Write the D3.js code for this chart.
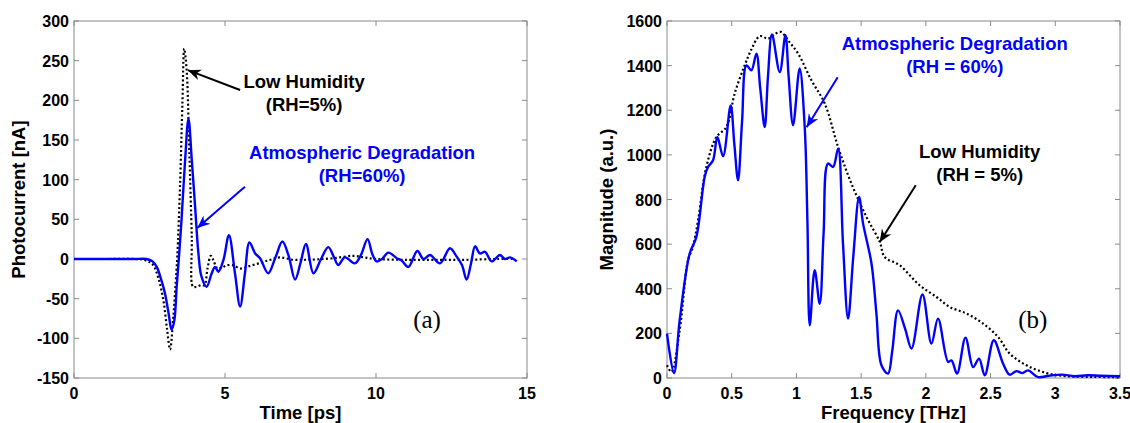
<!DOCTYPE html>
<html>
<head>
<meta charset="utf-8">
<script src="https://cdn.jsdelivr.net/npm/d3@7"></script>
<style>
  body { margin: 0; background: #fff; }
  svg text { font-family: "Liberation Sans", Arial, Helvetica, sans-serif; font-weight: bold; }
  .tick-label { font-size: 16px; fill: #000; }
  .axis-label { font-size: 18.5px; fill: #000; }
  .note { font-size: 18.5px; }
  .panel-tag { font-family: "Liberation Serif", "Times New Roman", serif !important; font-weight: normal !important; font-size: 25px; fill: #000; }
</style>
</head>
<body>
<svg id="chart" width="1130" height="423"></svg>
<script>
/*******************************************************************************************/
// Data

// (a) time domain
var lowT = [0, 1, 2, 2.3, 2.5, 2.63, 2.8, 2.96, 3.08, 3.18, 3.28, 3.35, 3.42, 3.51, 3.59, 3.65, 3.73, 3.82, 3.9, 3.94,
            4.05, 4.2, 4.32, 4.42, 4.53, 4.62, 4.75, 4.9, 5.05, 5.28, 5.5, 5.8, 6.16, 6.5, 6.82, 7.26, 7.6, 8.03,
            8.6, 9.25, 9.6, 10, 11, 12, 13, 14, 14.6];
var lowI = [0, 0, 0, -1, -4, -8, -25, -52, -88, -114, -77, -40, 3, 91, 196, 265, 238, 133, 28, -35,
            -35, -33, -33, -12, 4, -2, -12, -11, -8, -8, -12, -9, -5, -1, 2, -1, -1, -0.5,
            1, 4, 2, 0, -1, -1, -1, 0, 0];

var degT = [0, 1, 2, 2.4, 2.6, 2.74, 2.88, 3.01, 3.13, 3.23, 3.32, 3.4, 3.48, 3.56, 3.68, 3.79, 3.9, 4.01, 4.12, 4.22,
            4.39, 4.56, 4.67, 4.78, 4.95, 5.13, 5.33, 5.5, 5.66, 5.81, 6.0, 6.16, 6.43, 6.67, 6.9, 7.1, 7.32, 7.5,
            7.68, 7.93, 8.18, 8.42, 8.6, 8.75, 8.97, 9.3, 9.5, 9.72, 9.88, 10.02, 10.2, 10.41, 10.69, 10.85, 11.07,
            11.37, 11.57, 11.79, 12.12, 12.45, 12.67, 12.85, 13.0, 13.15, 13.28, 13.44, 13.61, 13.83, 14.1, 14.27,
            14.44, 14.66];
var degI = [0, 0, 0, 0, -3, -10, -25, -43, -68, -89, -78, -35, 5, 49, 125, 177, 125, 66, 7, -22,
            -35, -18, -10, -16, -1, 30, -18, -60, -18, 21, 7, 1, -18, 2, 22, 5, -26, -5,
            19, -18, 0, 15, 3, -7.6, 2, -5.5, 5, 25, 6, -3, 0, 8, 1, -2, -10,
            10, 0, 5, -5.5, 13.5, 3, -8, -26, -5, 16, 7, 9, -3, 5, 0,
            2, -3];

var timeTicks = [0, 5, 10, 15];
var currentTicks = [-150, -100, -50, 0, 50, 100, 150, 200, 250, 300];

// (b) frequency domain
var lowF = [0, 0.034, 0.098, 0.162, 0.2, 0.24, 0.304, 0.382, 0.459, 0.523, 0.6, 0.65, 0.716, 0.781, 0.83, 0.879, 0.94,
            1.013, 1.116, 1.219, 1.322, 1.425, 1.541, 1.644, 1.682, 1.798, 1.953, 2.082, 2.185, 2.314, 2.442, 2.558,
            2.648, 2.777, 2.932, 3.087, 3.3, 3.5];
var lowM = [57, 27, 214, 527, 587, 707, 946, 1080, 1125, 1275, 1401, 1470, 1532, 1521, 1540, 1551, 1510,
            1454, 1334, 1230, 1035, 871, 722, 610, 542, 505, 415, 363, 318, 289, 244, 184,
            109, 57, 22, 8, 5, 3];

var degF = [0, 0.054, 0.098, 0.175, 0.227, 0.291, 0.317, 0.356, 0.389, 0.433, 0.492, 0.52, 0.549, 0.58, 0.614, 0.652,
            0.691, 0.72, 0.755, 0.78, 0.811, 0.871, 0.915, 0.94, 0.974, 1.025, 1.064, 1.085, 1.103, 1.141, 1.18,
            1.21, 1.244, 1.283, 1.322, 1.36, 1.399, 1.44, 1.484, 1.515, 1.58, 1.618, 1.657, 1.708, 1.74, 1.785, 1.84,
            1.889, 1.974, 2.043, 2.094, 2.172, 2.198, 2.241, 2.306, 2.365, 2.411, 2.455, 2.525, 2.597, 2.648, 2.7,
            2.746, 2.79, 2.867, 2.95, 3.05, 3.15, 3.25, 3.35, 3.5];
var degM = [199, 22, 259, 557, 632, 901, 946, 976, 1080, 994, 1222, 1050, 886, 1150, 1401, 1379,
            1454, 1300, 1125, 1350, 1540, 1371, 1536, 1350, 1133, 1387, 1125, 700, 236, 483, 333,
            650, 961, 946, 1028, 600, 266, 550, 811, 692, 513, 289, 57, 20, 120, 303, 220,
            132, 374, 154, 266, 72, 79, 20, 181, 49, 87, 12, 169, 64, 15, 31,
            22, 34, 4, 10, 15, 8, 12, 10, 8];

var freqTicks = [0, 0.5, 1, 1.5, 2, 2.5, 3, 3.5];
var magTicks = [0, 200, 400, 600, 800, 1000, 1200, 1400, 1600];

/*************************************************/

var svg = d3.select('#chart');
var BLUE = '#0000ff';

var defs = svg.append('defs');
[['arrowBlack', '#000'], ['arrowBlue', BLUE]].forEach(function(a){
  defs.append('marker')
    .attr('id', a[0]).attr('markerUnits', 'userSpaceOnUse')
    .attr('viewBox', '-14 -7 16 14').attr('refX', 0).attr('refY', 0)
    .attr('markerWidth', 16).attr('markerHeight', 14).attr('orient', 'auto')
    .append('path').attr('d', 'M0,0 L-13,-5.5 L-9,0 L-13,5.5 Z').attr('fill', a[1]);
});

function zip(xs, ys){ return xs.map(function(x, i){ return { x: x, y: ys[i] }; }); }

function drawPanel(opt){
  var x = d3.scaleLinear().domain(opt.xDomain).range([opt.left, opt.right]);
  var y = d3.scaleLinear().domain(opt.yDomain).range([opt.bottom, opt.top]);
  var g = svg.append('g');
  var tl = 5;

  // box
  g.append('rect').attr('x', opt.left).attr('y', opt.top)
    .attr('width', opt.right - opt.left).attr('height', opt.bottom - opt.top)
    .attr('fill', 'none').attr('stroke', '#8a8a8a').attr('stroke-width', 1);

  // inward ticks, all four sides
  opt.xTicks.forEach(function(t){
    g.append('line').attr('x1', x(t)).attr('x2', x(t)).attr('y1', opt.bottom).attr('y2', opt.bottom - tl).attr('stroke', '#8a8a8a');
    g.append('line').attr('x1', x(t)).attr('x2', x(t)).attr('y1', opt.top).attr('y2', opt.top + tl).attr('stroke', '#8a8a8a');
    g.append('text').attr('class', 'tick-label').attr('x', x(t)).attr('y', opt.bottom + 21)
      .attr('text-anchor', 'middle').text(t);
  });
  opt.yTicks.forEach(function(t){
    g.append('line').attr('x1', opt.left).attr('x2', opt.left + tl).attr('y1', y(t)).attr('y2', y(t)).attr('stroke', '#8a8a8a');
    g.append('line').attr('x1', opt.right).attr('x2', opt.right - tl).attr('y1', y(t)).attr('y2', y(t)).attr('stroke', '#8a8a8a');
    g.append('text').attr('class', 'tick-label').attr('x', opt.left - 5).attr('y', y(t) + 6)
      .attr('text-anchor', 'end').text(t);
  });

  // axis labels
  g.append('text').attr('class', 'axis-label').attr('text-anchor', 'middle')
    .attr('x', (opt.left + opt.right) / 2).attr('y', 419).text(opt.xLabel);
  g.append('text').attr('class', 'axis-label').attr('text-anchor', 'middle')
    .attr('transform', 'translate(' + opt.yLabelX + ',' + ((opt.top + opt.bottom) / 2) + ') rotate(-90)')
    .text(opt.yLabel);

  var line = d3.line().x(function(d){ return x(d.x); }).y(function(d){ return y(d.y); })
    .curve(d3.curveCatmullRom.alpha(0.5));

  g.append('path').attr('d', line(opt.low)).attr('fill', 'none')
    .attr('stroke', '#000').attr('stroke-width', 2.2).attr('stroke-dasharray', '2,2.4');
  g.append('path').attr('d', line(opt.deg)).attr('fill', 'none')
    .attr('stroke', BLUE).attr('stroke-width', 2.4).attr('stroke-linejoin', 'round');

  // annotations
  opt.notes.forEach(function(n){
    var t = g.append('text').attr('class', 'note').attr('fill', n.color).attr('text-anchor', 'middle');
    n.lines.forEach(function(s, i){
      t.append('tspan').attr('x', x(n.at[0])).attr('y', y(n.at[1]) + i * 23).text(s);
    });
    g.append('line')
      .attr('x1', x(n.from[0])).attr('y1', y(n.from[1]))
      .attr('x2', x(n.to[0])).attr('y2', y(n.to[1]))
      .attr('stroke', n.color).attr('stroke-width', 2)
      .attr('marker-end', 'url(#' + (n.color === BLUE ? 'arrowBlue' : 'arrowBlack') + ')');
  });

  g.append('text').attr('class', 'panel-tag').attr('text-anchor', 'middle')
    .attr('x', x(opt.tag.at[0])).attr('y', y(opt.tag.at[1])).text(opt.tag.text);
}

drawPanel({
  left: 74, right: 527, top: 21, bottom: 378,
  xDomain: [0, 15], yDomain: [-150, 300],
  xTicks: timeTicks, yTicks: currentTicks,
  xLabel: 'Time [ps]', yLabel: 'Photocurrent [nA]', yLabelX: 25,
  low: zip(lowT, lowI), deg: zip(degT, degI),
  notes: [
    { color: '#000', lines: ['Low Humidity', '(RH=5%)'], at: [7.62, 216], from: [5.5, 213], to: [3.77, 238] },
    { color: BLUE, lines: ['Atmospheric Degradation', '(RH=60%)'], at: [9.54, 126], from: [5.66, 91], to: [4.08, 39] }
  ],
  tag: { text: '(a)', at: [11.69, -87] }
});

drawPanel({
  left: 667, right: 1120, top: 21, bottom: 378,
  xDomain: [0, 3.5], yDomain: [0, 1600],
  xTicks: freqTicks, yTicks: magTicks,
  xLabel: 'Frequency [THz]', yLabel: 'Magnitude (a.u.)', yLabelX: 613,
  low: zip(lowF, lowM), deg: zip(degF, degM),
  notes: [
    { color: BLUE, lines: ['Atmospheric Degradation', '(RH = 60%)'], at: [2.223, 1469], from: [1.319, 1348], to: [1.079, 1124] },
    { color: '#000', lines: ['Low Humidity', '(RH = 5%)'], at: [2.416, 985], from: [1.922, 864], to: [1.643, 608] }
  ],
  tag: { text: '(b)', at: [2.826, 223] }
});
</script>
</body>
</html>
